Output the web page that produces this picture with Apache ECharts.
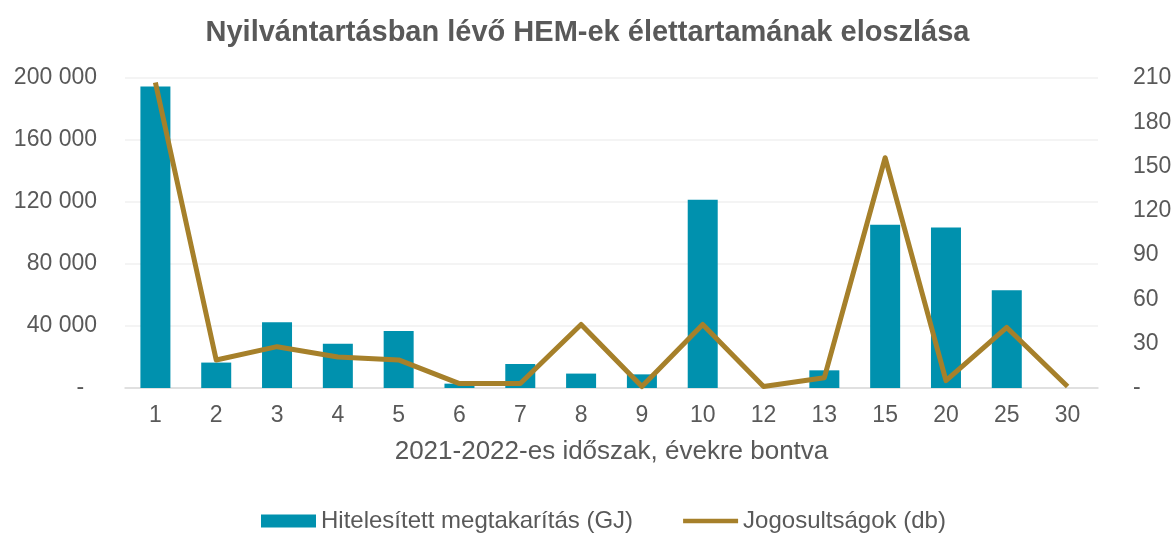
<!DOCTYPE html>
<html>
<head>
<meta charset="utf-8">
<script src="https://cdn.jsdelivr.net/npm/echarts@6/dist/echarts.min.js"></script>
<style>
	html,body{margin:0;padding:0;background:#fff;}
	#chart{width:1175px;height:534px;}
</style>
</head>
<body>
<div id="chart"></div>
<script>
//数据
var categories = ['1','2','3','4','5','6','7','8','9','10','12','13','15','20','25','30'];
var megtakaritas = [194500,16400,42500,28600,36800,2800,15500,9300,8800,121500,0,11400,105400,103500,63000,0];
var jogosultsagok = [207,19,28,21,19,3,3,43,1,43,1,7,156,5,41,1];
var seriesNames = ['Hitelesített megtakarítás (GJ)','Jogosultságok (db)'];

var font = 'Liberation Sans, Arial, sans-serif';
var grey = '#595959';

function fmtLeft(v){
	if(v == 0) return '-  ';
	return String(v).replace(/\B(?=(\d{3})+(?!\d))/g,' ');
}

var myEchart = echarts.init(document.getElementById('chart'));

var option = {
	animation: false,
	title: {
		text: 'Nyilvántartásban lévő HEM-ek élettartamának eloszlása',
		left: 'center',
		top: 13,
		textStyle: {fontFamily: font, fontSize: 29, fontWeight: 'bold', color: grey}
	},
	legend: {
		top: 504,
		left: 256,
		itemWidth: 55,
		itemHeight: 13,
		itemGap: 50,
		textStyle: {fontFamily: font, fontSize: 24, color: grey},
		data: [
			{name: seriesNames[0], icon: 'rect'},
			{name: seriesNames[1], icon: 'path://M0,0L120,0L120,10L0,10Z'}
		]
	},
	grid: {left: 125, right: 77, top: 78, bottom: 146},
	xAxis: {
		type: 'category',
		data: categories,
		name: '2021-2022-es időszak, évekre bontva',
		nameLocation: 'middle',
		nameGap: 51,
		nameTextStyle: {fontFamily: font, fontSize: 26, color: grey},
		axisLine: {lineStyle: {color: '#d9d9d9', width: 1.5}},
		axisTick: {show: false},
		axisLabel: {fontFamily: font, fontSize: 23, color: grey, margin: 16}
	},
	yAxis: [
		{
			type: 'value',
			min: 0,
			max: 200000,
			interval: 40000,
			axisLine: {show: false},
			axisTick: {show: false},
			axisLabel: {fontFamily: font, fontSize: 23, color: grey, margin: 28, formatter: fmtLeft},
			splitLine: {lineStyle: {color: '#f0f0f0', width: 1.5}}
		},
		{
			type: 'value',
			min: 0,
			max: 210,
			interval: 30,
			axisLine: {show: false},
			axisTick: {show: false},
			axisLabel: {fontFamily: font, fontSize: 23, color: grey, margin: 35,
				formatter: function(v){ return v == 0 ? '-' : v; }},
			splitLine: {show: false}
		}
	],
	series: [
		{
			name: seriesNames[0],
			type: 'bar',
			yAxisIndex: 0,
			barWidth: 30,
			itemStyle: {color: '#0091ae'},
			data: megtakaritas
		},
		{
			name: seriesNames[1],
			type: 'line',
			yAxisIndex: 1,
			symbol: 'none',
			z: 5,
			lineStyle: {color: '#a6802a', width: 5, join: 'round'},
			itemStyle: {color: '#a6802a'},
			data: jogosultsagok
		}
	]
};

myEchart.setOption(option);
</script>
</body>
</html>
